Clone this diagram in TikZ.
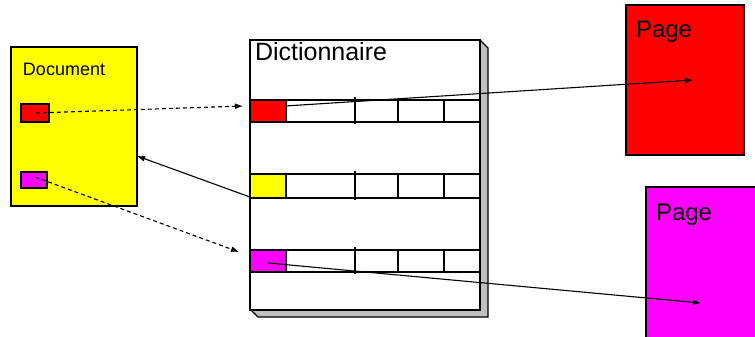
\documentclass[tikz,border=0pt]{standalone}
\usepackage{fontspec}
\setmainfont{Liberation Sans}
\usetikzlibrary{arrows.meta}
\definecolor{cred}{HTML}{FF0000}
\definecolor{cyel}{HTML}{FFFF00}
\definecolor{cmag}{HTML}{FF00FF}
\definecolor{cshadow}{HTML}{C0C0C0}
\begin{document}
\begin{tikzpicture}[x=1pt,y=-1pt,
  box/.style={draw=black,line width=1.5pt,anchor=north west,inner sep=0pt,outer sep=0pt},
  cell/.style={draw=black,line width=1.2pt,anchor=north west,inner sep=0pt,outer sep=0pt},
  lbl/.style={inner sep=0pt,outer sep=0pt,text=black},
  dasharrow/.style={line width=1.1pt,dash pattern=on 4pt off 3pt,-{Latex[length=8pt,width=6pt]}},
  solidarrow/.style={line width=1.1pt,-{Latex[length=8pt,width=6pt]}},
  divider/.style={line width=1.2pt},
  thickdivider/.style={line width=2.5pt}]
\path[use as bounding box, clip] (0,0) rectangle (755,337);

% Document
\node[box,fill=cyel,minimum width=126pt,minimum height=159pt] (doc) at (11,47) {};
\node[lbl,anchor=west,font=\fontsize{18}{18}\selectfont] (doctitle) at (23,69) {Document};
\node[box,fill=cred,minimum width=28pt,minimum height=18pt] (dref1) at (21,104) {};
\node[box,fill=cmag,minimum width=26pt,minimum height=16pt] (dref2) at (21,172) {};

% Dictionnaire with shadow
\filldraw[fill=cshadow,draw=black,line width=1.2pt] (480,40) -- (488,48) -- (488,317) -- (258,317) -- (250,309) -- cycle;
\node[box,fill=white,minimum width=230pt,minimum height=270pt] (dict) at (250,40) {};
\node[lbl,anchor=west,font=\fontsize{25}{25}\selectfont] (dicttitle) at (255,52) {Dictionnaire};

% rows
\foreach \r/\y/\h/\c in {1/100/22/cred,2/174/24/cyel,3/250/22/cmag}{
  \node[cell,fill=white,minimum width=230pt,minimum height=\h pt] (row\r) at (250,\y) {};
  \node[cell,fill=\c,minimum width=36pt,minimum height=\h pt] (key\r) at (250,\y) {};
  \draw[thickdivider] (355,\y-3) -- (355,\y+\h+2);
  \draw[divider] (398,\y) -- (398,\y+\h);
  \draw[divider] (444,\y) -- (444,\y+\h);
}

% Pages
\node[box,fill=cred,minimum width=118pt,minimum height=150pt] (page1) at (626,5) {};
\node[lbl,anchor=base west,font=\fontsize{24}{24}\selectfont] (page1title) at (636,38) {Page};
\node[box,fill=cmag,minimum width=130pt,minimum height=170pt] (page2) at (646,187) {};
\node[lbl,anchor=base west,font=\fontsize{24}{24}\selectfont] (page2title) at (656,220) {Page};

% connector end points
\coordinate (t1) at (243,106);
\coordinate (t2) at (239,252);
\coordinate (t3) at (137,156);
\coordinate (p1) at (693,80);
\coordinate (p2) at (701,303);
\coordinate (s1) at (285,106);
\coordinate (s2) at (268,263);
\coordinate (s3) at (250,197);
\coordinate (d1) at (36,113);
\coordinate (d2) at (35,177);

\draw[dasharrow] (d1) -- (t1);
\draw[dasharrow] (d2) -- (t2);
\draw[solidarrow] (s3) -- (t3);
\draw[solidarrow] (s1) -- (p1);
\draw[solidarrow] (s2) -- (p2);
\end{tikzpicture}
\end{document}
